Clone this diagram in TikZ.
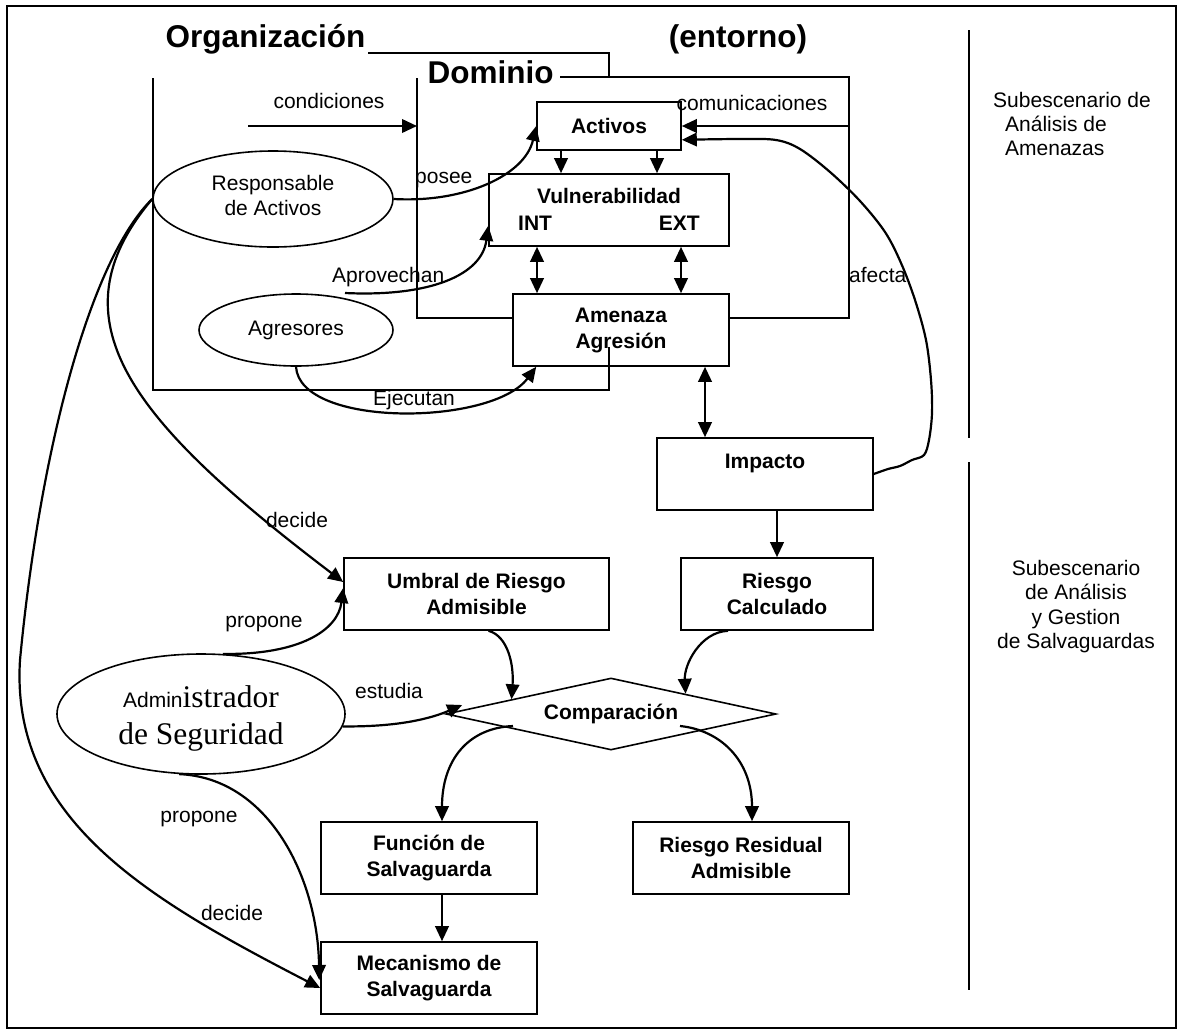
\documentclass[tikz,border=0pt]{standalone}
\usepackage{fontspec}
\setmainfont{Liberation Sans}
\newfontfamily\seriffont{Liberation Serif}
\usetikzlibrary{arrows.meta,shapes.geometric,calc}

\tikzset{
  box/.style={draw, line width=1.6pt, rectangle, inner sep=0pt, align=center,
    font=\fontsize{21}{26}\selectfont\bfseries},
  oval/.style={draw, line width=1.6pt, ellipse, inner sep=0pt, align=center,
    font=\fontsize{21}{25}\selectfont},
  lbl/.style={font=\fontsize{21}{25}\selectfont, inner sep=0pt, anchor=base},
  boldlbl/.style={font=\fontsize{21}{25}\selectfont\bfseries, inner sep=0pt, anchor=base},
  title/.style={font=\fontsize{31.5}{36}\selectfont\bfseries, inner sep=0pt, anchor=base},
  frame/.style={line width=1.6pt},
  conn/.style={line width=2.2pt, -{Triangle[length=15pt,width=13.5pt]}},
  dconn/.style={line width=2.2pt, {Triangle[length=15pt,width=13.5pt]}-{Triangle[length=15pt,width=13.5pt]}},
}

\begin{document}
\begin{tikzpicture}[x=1pt,y=-1pt]
\useasboundingbox (0,0) rectangle (1182,1034);
\fill[white] (0,0) rectangle (1182,1034);

% outer border and section separators
\draw[frame] (7,6) rectangle (1176,1028);
\draw[frame] (969,30) -- (969,438);
\draw[frame] (969,462) -- (969,990);

% titles
\node[title] (orgtitle) at (265.5,47) {Organización};
\node[title] (domtitle) at (490.5,83) {Dominio};
\node[title] (enttitle) at (738,47) {(entorno)};

% boxes
\node[box, minimum width=144pt, minimum height=48pt] (activos) at (609,126) {Activos};
\node[box, minimum width=240pt, minimum height=72pt] (vuln) at (609,210) {};
\node[boldlbl] (vulntxt) at (609,203) {Vulnerabilidad};
\node[boldlbl, anchor=base west] (inttxt) at (518,230) {INT};
\node[boldlbl, anchor=base east] (exttxt) at (700,230) {EXT};
\node[box, minimum width=216pt, minimum height=72pt] (amenaza) at (621,330) {Amenaza\\Agresión};
\node[box, minimum width=216pt, minimum height=72pt] (impacto) at (765,474) {Impacto\\\phantom{I}};
\node[box, minimum width=192pt, minimum height=72pt] (riesgo) at (777,594) {Riesgo\\Calculado};
\node[box, minimum width=265pt, minimum height=72pt] (umbral) at (476.5,594) {Umbral de Riesgo\\Admisible};
\node[draw, line width=1.6pt, diamond, inner sep=0pt, shape aspect=4.5,
      minimum width=330pt, minimum height=72pt,
      font=\fontsize{21}{26}\selectfont\bfseries] (comp) at (611,714) {Comparación};
\node[box, minimum width=216pt, minimum height=72pt] (funcion) at (429,858) {Función de\\Salvaguarda};
\node[box, minimum width=216pt, minimum height=72pt] (residual) at (741,858) {Riesgo Residual\\Admisible};
\node[box, minimum width=216pt, minimum height=72pt] (mecanismo) at (429,978) {Mecanismo de\\Salvaguarda};

% actors
\node[oval, minimum width=240pt, minimum height=96pt] (resp) at (273,199)
  {Responsable\\de Activos\rule[-7.4pt]{0pt}{0pt}};
\node[oval, minimum width=194pt, minimum height=72pt] (agres) at (296,330) {Agresores};
\node[oval, minimum width=288pt, minimum height=120pt,
      font=\seriffont\fontsize{31.5}{37}\selectfont] (admin) at (201,714)
  {\rule{0pt}{31.5pt}{\rmfamily\fontspec{Liberation Sans}\fontsize{21}{25}\selectfont Admin}istrador\\de Seguridad};

% frames of the organisation and the domain
\draw[frame] (368,53) -- (609,53) -- (609,77);
\draw[frame] (153,78) -- (153,390) -- (609,390) -- (609,347);
\draw[frame] (417,78) -- (417,318) -- (513,318);
\draw[frame] (729,318) -- (849,318) -- (849,77) -- (560,77);

% external inputs to the domain
\coordinate (condstart) at (248,126);
\coordinate (condend) at (417,126);
\draw[conn] (condstart) -- (condend);
\node[lbl] (condlbl) at (329,108) {condiciones};
\coordinate (comstart) at (849,126);
\draw[conn] (comstart) -- (activos.east);
\node[lbl] (comlbl) at (752,110) {comunicaciones};

% inner flow
\draw[conn] (activos.south -| 561,0) -- (vuln.north -| 561,0);
\draw[conn] (activos.south -| 657,0) -- (vuln.north -| 657,0);
\draw[dconn] (vuln.south -| 537,0) -- (amenaza.north -| 537,0);
\draw[dconn] (vuln.south -| 681,0) -- (amenaza.north -| 681,0);
\draw[dconn] (amenaza.south -| 705,0) -- (impacto.north -| 705,0);
\draw[conn] (impacto.south -| 777,0) -- (riesgo.north -| 777,0);
\draw[conn] (funcion.south -| 442,0) -- (mecanismo.north -| 442,0);

% posee
\draw[conn] (resp.east) .. controls (465,203) and (525,175) .. (activos.west);
\node[lbl, anchor=base west] (poseelbl) at (415,183) {posee};

% aprovechan
\coordinate (aprostart) at (345,293);
\draw[conn] (aprostart) .. controls (430,297) and (482,275) .. ($(vuln.south west)+(0,-21)$);
\node[lbl, anchor=base west] (aprolbl) at (332,282) {Aprovechan};

% ejecutan
\draw[conn] (agres.south) .. controls (300,428) and (492,426) .. ($(amenaza.south west)+(24,0)$);
\node[lbl] (ejelbl) at (414,405) {Ejecutan};

% afecta
\draw[conn] plot[smooth, tension=0.55] coordinates {(impacto.east) (888,469) (900,466) (912,460)
  (924,455) (929,440) (932,413) (931,380) (926,340) (915,300) (901,263) (885,232) (860,201)
  (830,172) (800,149) (776,140) (740,139) ($(activos.south east)+(0,-11)$)};
\node[lbl, anchor=base west] (afectalbl) at (849,282) {afecta};

% decisions of the asset owner
\draw[conn] (resp.west) .. controls (50,320) and (130,420) .. ($(umbral.west)+(0,-12)$);
\node[lbl] (decide1lbl) at (297,527) {decide};
\draw[conn] (resp.west) .. controls (90,260) and (40,450) .. (20,660)
  .. controls (10,820) and (150,900) .. ($(mecanismo.west)+(0,10)$);
\node[lbl] (decide2lbl) at (232,920) {decide};

% security administrator
\draw[conn] (admin.70) .. controls (300,655) and (338,630) .. ($(umbral.west)+(0,-6)$);
\node[lbl] (prop1lbl) at (264,627) {propone};
\draw[conn] (admin.-5) .. controls (400,727) and (432,718) .. ($(comp.west)+(17,-9)$);
\node[lbl] (estlbl) at (389,698) {estudia};
\draw[conn] (admin.-110) .. controls (270,778) and (318,880) .. ($(mecanismo.west)+(-1,2)$);
\node[lbl] (prop2lbl) at (199,822) {propone};

% comparison
\draw[conn] ($(umbral.south)+(12,0)$) .. controls (508,636) and (514,665) .. ($(comp.west)!0.4!(comp.north)$);
\draw[conn] ($(riesgo.south)+(-49,0)$) .. controls (700,632) and (684,665) .. ($(comp.north)!0.45!(comp.east)$);
\draw[conn] ($(comp.center)+(-98,12)$) .. controls (468,728) and (442,760) .. ($(funcion.north)+(13,0)$);
\draw[conn] ($(comp.center)+(69,12)$) .. controls (720,730) and (752,760) .. ($(residual.north)+(11,0)$);

% side captions
\node[font=\fontsize{21}{24}\selectfont, inner sep=0pt, anchor=north west, align=left] (sub1)
  at (993,92) {Subescenario de\\\hspace*{12pt}Análisis de\\\hspace*{12pt}Amenazas};
\node[font=\fontsize{21}{24.4}\selectfont, inner sep=0pt, anchor=north, align=center] (sub2)
  at (1076,560) {Subescenario\\de Análisis\\y Gestion\\de Salvaguardas};
\end{tikzpicture}
\end{document}
